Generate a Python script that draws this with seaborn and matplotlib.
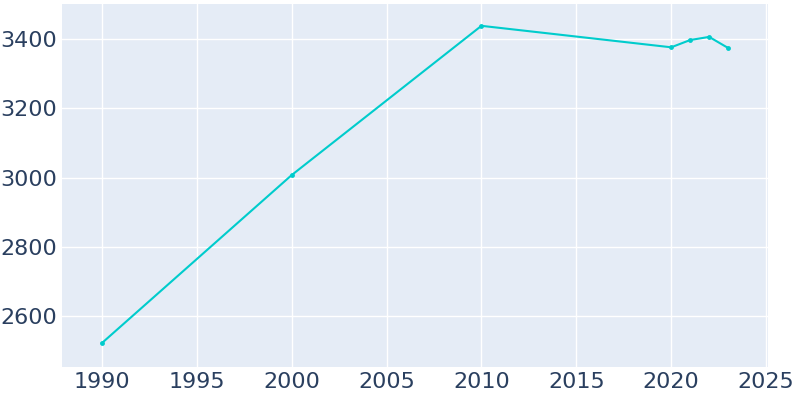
import matplotlib
matplotlib.use("Agg")
import matplotlib.pyplot as plt
import seaborn as sns
import pandas as pd

years = [1990, 2000, 2010, 2020, 2021, 2022, 2023]
population = [2522, 3007, 3438, 3376, 3397, 3406, 3374]
xticks = [1990, 1995, 2000, 2005, 2010, 2015, 2020, 2025]
yticks = [2600, 2800, 3000, 3200, 3400]

df = pd.DataFrame({"year": years, "pop": population})
fig = plt.figure(figsize=(8, 4), dpi=100)
ax = fig.add_axes([0.0775, 0.0825, 0.8825, 0.9075])
ax.set_facecolor("#e5ecf6")
sns.lineplot(data=df, x="year", y="pop", ax=ax, color="#00cccc", lw=1.5,
             marker="o", markersize=3.5, markeredgewidth=0)
ax.set_xlim(1987.9, 2025.1)
ax.set_ylim(2453, 3501)
ax.set_xticks(xticks)
ax.set_yticks(yticks)
ax.grid(True, color="white", lw=1)
ax.set_axisbelow(True)
for s in ax.spines.values():
    s.set_visible(False)
ax.tick_params(length=0, labelsize=16, colors="#2a3f5f")
ax.set_xlabel("")
ax.set_ylabel("")
fig.savefig("out.png")
